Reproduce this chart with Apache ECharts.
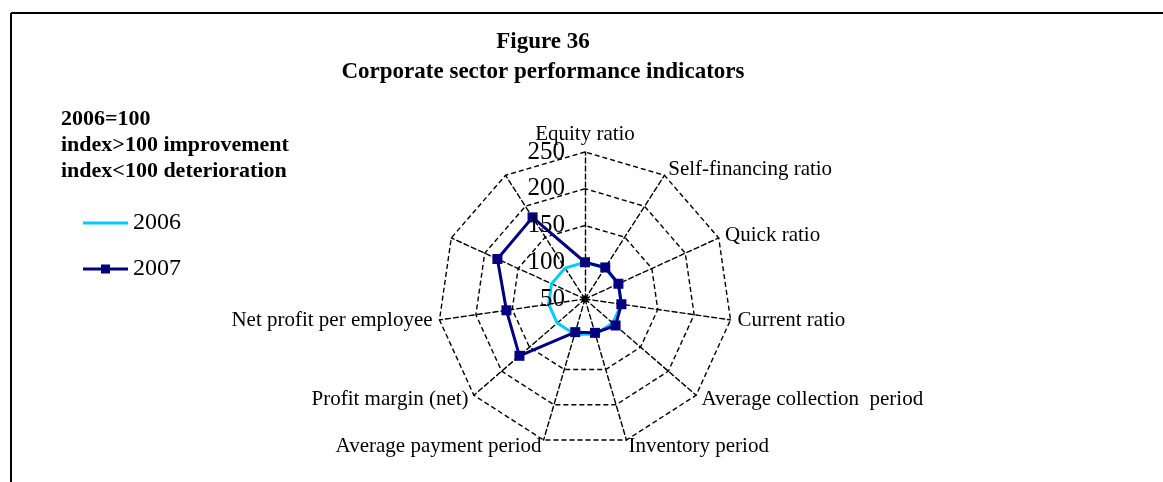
<!DOCTYPE html>
<html>
<head>
<meta charset="utf-8">
<script src="https://cdn.jsdelivr.net/npm/echarts@6.0.0/dist/echarts.min.js"></script>
<style>
html, body { margin: 0; padding: 0; background: #fff; }
#chart { width: 1163px; height: 482px; }
</style>
</head>
<body>
<div id="chart"></div>
<script>
// indicator names, clockwise from the top (last two have no label in the original)
const indicatorNames = [
  'Equity ratio',
  'Self-financing ratio',
  'Quick ratio',
  'Current ratio',
  'Average collection  period',
  'Inventory period',
  'Average payment period',
  'Profit margin (net)',
  'Net profit per employee',
  '',
  ''
]
// 2006 = 100
const values2006 = [100, 100, 100, 100, 100, 100, 100, 100, 100, 100, 100]
const values2007 = [100, 101, 100, 100, 105, 98, 97, 168, 158, 181, 182]
// scale of the radar
const axisMin = 50
const axisMax = 250
const axisStep = 50
const noteLines = ['2006=100', 'index>100 improvement', 'index<100 deterioration']

const serif = 'Liberation Serif, Times New Roman, serif'
const center = [585, 299]
const radius = 147

// echarts draws radar indicators counter-clockwise, so flip the order
const order = [0].concat(indicatorNames.map((_, i) => i).slice(1).reverse())
const pick = arr => order.map(i => arr[i])

// legend icons: plain line / line with a square marker (the first moves keep the box height)
const lineIcon = 'path://M0,0 L0,0 M0,12 L0,12 M0,4.5 L45,4.5 L45,7.5 L0,7.5 Z'
const markerIcon = 'path://M0,0 L0,0 M0,12 L0,12 M0,4.5 L18,4.5 L18,1.5 L27,1.5 L27,4.5 L45,4.5 L45,7.5 L27,7.5 L27,10.5 L18,10.5 L18,7.5 L0,7.5 Z'

const chart = echarts.init(document.getElementById('chart'))

const option = {
  animation: false,
  backgroundColor: '#fff',
  title: {
    text: 'Figure 36\nCorporate sector performance indicators',
    left: 538,
    top: 22,
    textAlign: 'center',
    textStyle: {
      fontFamily: serif,
      fontWeight: 'bold',
      fontSize: 23,
      lineHeight: 30,
      color: '#000'
    }
  },
  legend: {
    data: [
      { name: '2006', icon: lineIcon },
      { name: '2007', icon: markerIcon }
    ],
    orient: 'vertical',
    left: 83,
    top: 211,
    padding: 0,
    itemWidth: 45,
    itemHeight: 12,
    itemGap: 22,
    textStyle: { fontFamily: serif, fontSize: 24, color: '#000' }
  },
  radar: {
    center: center,
    radius: radius,
    startAngle: 90,
    shape: 'polygon',
    splitNumber: (axisMax - axisMin) / axisStep,
    nameGap: 7,
    axisName: { color: '#000', fontFamily: serif, fontSize: 21 },
    indicator: pick(indicatorNames).map(name => ({ name: name, min: axisMin, max: axisMax })),
    axisLine: { lineStyle: { color: '#000', type: [5, 3], width: 1.4 } },
    splitLine: { lineStyle: { color: '#000', type: [5, 3], width: 1.4 } },
    splitArea: { show: false },
    axisTick: { show: false },
    axisLabel: { show: false }
  },
  // only used for the tick labels along the first axis
  polar: { center: center, radius: radius },
  angleAxis: { show: false, startAngle: 90 },
  radiusAxis: {
    min: axisMin,
    max: axisMax,
    interval: axisStep,
    axisLine: { show: false },
    axisTick: { show: false },
    splitLine: { show: false },
    axisLabel: { margin: 20, fontFamily: serif, fontSize: 25, color: '#000' },
    z: 10
  },
  series: [
    {
      name: '2006',
      type: 'radar',
      symbol: 'none',
      lineStyle: { color: '#00ccff', width: 3 },
      itemStyle: { color: '#00ccff' },
      data: [{ value: pick(values2006), name: '2006' }]
    },
    {
      name: '2007',
      type: 'radar',
      symbol: 'rect',
      symbolSize: 10,
      lineStyle: { color: '#000080', width: 3 },
      itemStyle: { color: '#000080' },
      data: [{ value: pick(values2007), name: '2007' }]
    }
  ],
  graphic: [
    { type: 'line', shape: { x1: 11, y1: 13, x2: 1163, y2: 13 }, style: { stroke: '#000', lineWidth: 2 } },
    { type: 'line', shape: { x1: 11, y1: 13, x2: 11, y2: 482 }, style: { stroke: '#000', lineWidth: 2 } },
    { type: 'circle', shape: { cx: center[0], cy: center[1], r: 3.5 }, style: { fill: '#000' } },
    {
      type: 'text',
      left: 61,
      top: 106,
      style: {
        text: noteLines.join('\n'),
        font: 'bold 22px ' + serif,
        lineHeight: 26,
        fill: '#000'
      }
    }
  ]
}
chart.setOption(option)
</script>
</body>
</html>
